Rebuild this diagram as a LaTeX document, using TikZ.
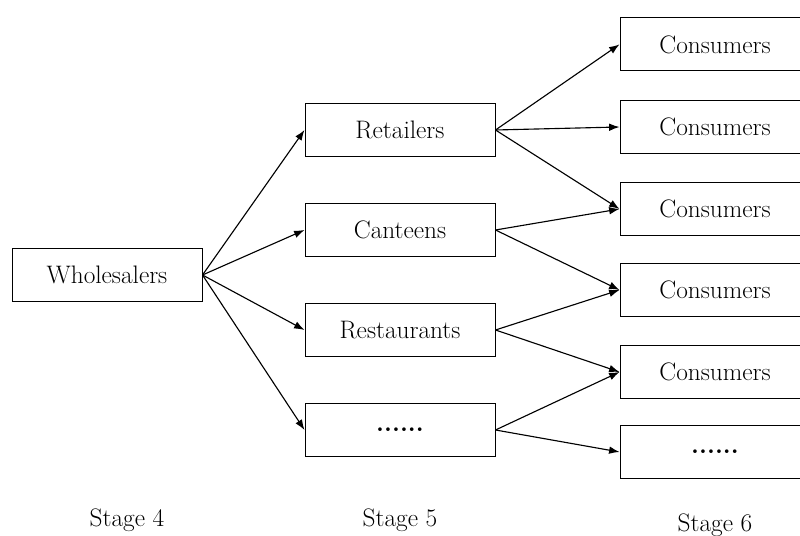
\documentclass[tikz,border=0pt]{standalone}
\usetikzlibrary{arrows.meta}
\begin{document}
\begin{tikzpicture}[>={Latex[length=2.6mm,width=1.9mm]},
    box/.style={draw,line width=0.7pt,minimum width=4.75cm,minimum height=1.33cm,font=\fontsize{18}{22}\selectfont},
    lbl/.style={font=\fontsize{18}{22}\selectfont}]
    \clip (0,0) rectangle (20,13.4);
    \fill[white] (0,0) rectangle (20,13.4);

    % stage 4
    \node[box] (whole) at (2.675,6.525) {Wholesalers};

    % stage 5
    \node[box] (ret) at (10,10.15) {Retailers};
    \node[box] (can) at (10,7.65) {Canteens};
    \node[box] (res) at (10,5.15) {Restaurants};
    \node[box] (dotsa) at (10,2.65) {\textbf{......}};

    % stage 6
    \node[box] (cona) at (17.875,12.29) {Consumers};
    \node[box] (conb) at (17.875,10.225) {Consumers};
    \node[box] (conc) at (17.875,8.175) {Consumers};
    \node[box] (cond) at (17.875,6.15) {Consumers};
    \node[box] (cone) at (17.875,4.1) {Consumers};
    \node[box] (dotsb) at (17.875,2.1) {\textbf{......}};

    \begin{scope}[line width=0.8pt]
      \draw[->] (whole.east) -- (ret.west);
      \draw[->] (whole.east) -- (can.west);
      \draw[->] (whole.east) -- (res.west);
      \draw[->] (whole.east) -- (dotsa.west);

      \draw[->] (ret.east) -- (cona.west);
      \draw[->] (ret.east) -- (conb.west);
      \draw[->] (ret.east) -- (conc.west);
      \draw[->] (can.east) -- (conc.west);
      \draw[->] (can.east) -- (cond.west);
      \draw[->] (res.east) -- (cond.west);
      \draw[->] (res.east) -- (cone.west);
      \draw[->] (dotsa.east) -- (cone.west);
      \draw[->] (dotsa.east) -- (dotsb.west);
    \end{scope}

    \node[lbl] (sfour) at (3.175,0.4) {Stage 4};
    \node[lbl] (sfive) at (10,0.4) {Stage 5};
    \node[lbl] (ssix) at (17.875,0.275) {Stage 6};
  \end{tikzpicture}
\end{document}
